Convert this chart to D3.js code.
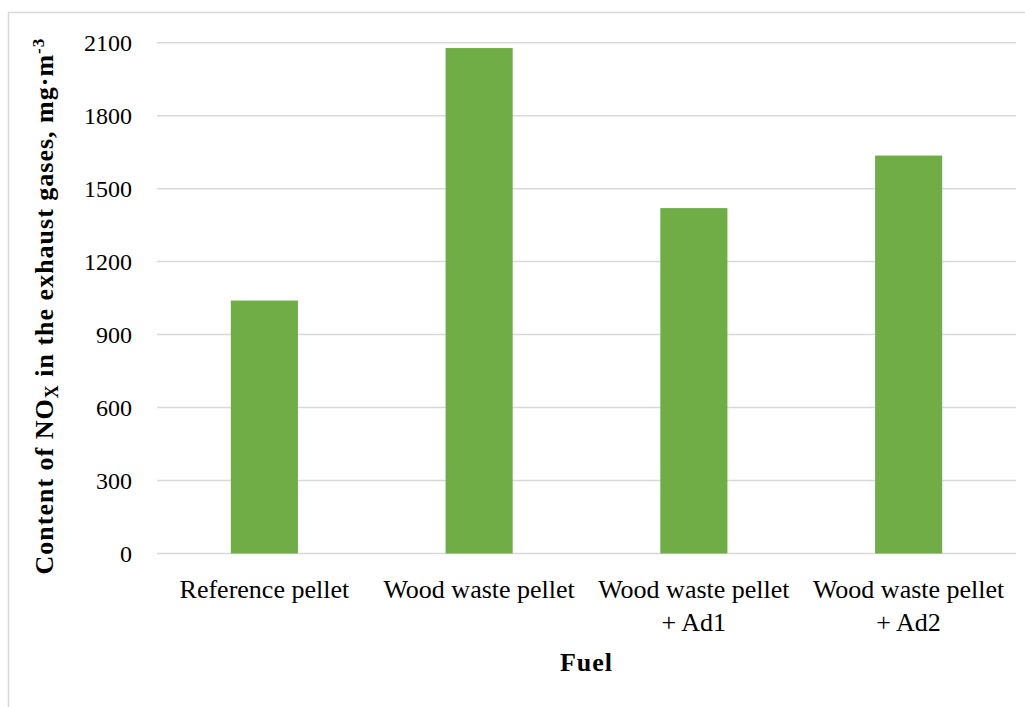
<!DOCTYPE html>
<html>
<head>
<meta charset="utf-8">
<script src="https://cdn.jsdelivr.net/npm/d3@7"></script>
<style>
  html, body { margin: 0; padding: 0; background: #fff; }
  svg { display: block; }
  text { font-family: "Liberation Serif", "DejaVu Serif", serif; fill: #000; }
</style>
</head>
<body>
<svg id="chart" width="1025" height="707"></svg>
<script>
const categories = [
  ["Reference pellet"],
  ["Wood waste pellet"],
  ["Wood waste pellet", "+ Ad1"],
  ["Wood waste pellet", "+ Ad2"]
];
const values = [1040, 2078, 1420, 1636];
const yTicks = [0, 300, 600, 900, 1200, 1500, 1800, 2100];
const xTitle = "Fuel";

const W = 1025, H = 707;
const m = { left: 157, right: 1016, top: 42.7, bottom: 553.5 };
const svg = d3.select("#chart");

// outer frame
svg.append("rect")
  .attr("x", 8.5).attr("y", 12.5)
  .attr("width", W + 10).attr("height", H + 10)
  .attr("fill", "none").attr("stroke", "#d9d9d9").attr("stroke-width", 1.5);

const x = d3.scaleBand()
  .domain(categories.map((d, i) => i))
  .range([m.left, m.right])
  .paddingInner(0).paddingOuter(0);

const y = d3.scaleLinear().domain([0, 2100]).range([m.bottom, m.top]);

// gridlines
svg.append("g").selectAll("line").data(yTicks).join("line")
  .attr("x1", m.left).attr("x2", m.right)
  .attr("y1", d => y(d)).attr("y2", d => y(d))
  .attr("stroke", "#d9d9d9").attr("stroke-width", 1.5);

// y axis labels
const yAxis = d3.axisLeft(y).tickValues(yTicks).tickSize(0).tickPadding(25)
  .tickFormat(d3.format("d"));
const gy = svg.append("g").attr("transform", `translate(${m.left},0)`).call(yAxis);
gy.select(".domain").remove();
gy.selectAll("text")
  .style("font-family", '"Liberation Serif", serif')
  .style("font-size", "24px").attr("fill", "#000")
  .attr("dy", "0.34em");

// bars
const barW = x.bandwidth() * 0.3125;
svg.append("g").selectAll("rect").data(values).join("rect")
  .attr("x", (d, i) => x(i) + x.bandwidth() / 2 - barW / 2)
  .attr("width", barW)
  .attr("y", d => y(d))
  .attr("height", d => y(0) - y(d))
  .attr("fill", "#70ad47");

// category labels
const gx = svg.append("g");
categories.forEach((lines, i) => {
  const t = gx.append("text")
    .attr("text-anchor", "middle")
    .style("font-size", "26px");
  lines.forEach((ln, j) => {
    t.append("tspan")
      .attr("x", x(i) + x.bandwidth() / 2)
      .attr("y", m.bottom + 44 + j * 33)
      .text(ln);
  });
});

// x title
svg.append("text")
  .attr("x", (m.left + m.right) / 2).attr("y", 671)
  .attr("text-anchor", "middle")
  .style("font-size", "26px").style("font-weight", "bold")
  .style("letter-spacing", "1px")
  .text(xTitle);

// y title
const yt = svg.append("text")
  .attr("transform", `translate(53,${(m.top + m.bottom) / 2 + 8}) rotate(-90)`)
  .attr("text-anchor", "middle")
  .style("font-size", "26px").style("font-weight", "bold")
  .style("letter-spacing", "1px");
yt.append("tspan").text("Content of NO");
yt.append("tspan").attr("baseline-shift", "-25%").style("font-size", "18px").text("X");
yt.append("tspan").text(" in the exhaust gases, mg·m");
yt.append("tspan").attr("baseline-shift", "super").style("font-size", "17px").text("-3");
</script>
</body>
</html>
